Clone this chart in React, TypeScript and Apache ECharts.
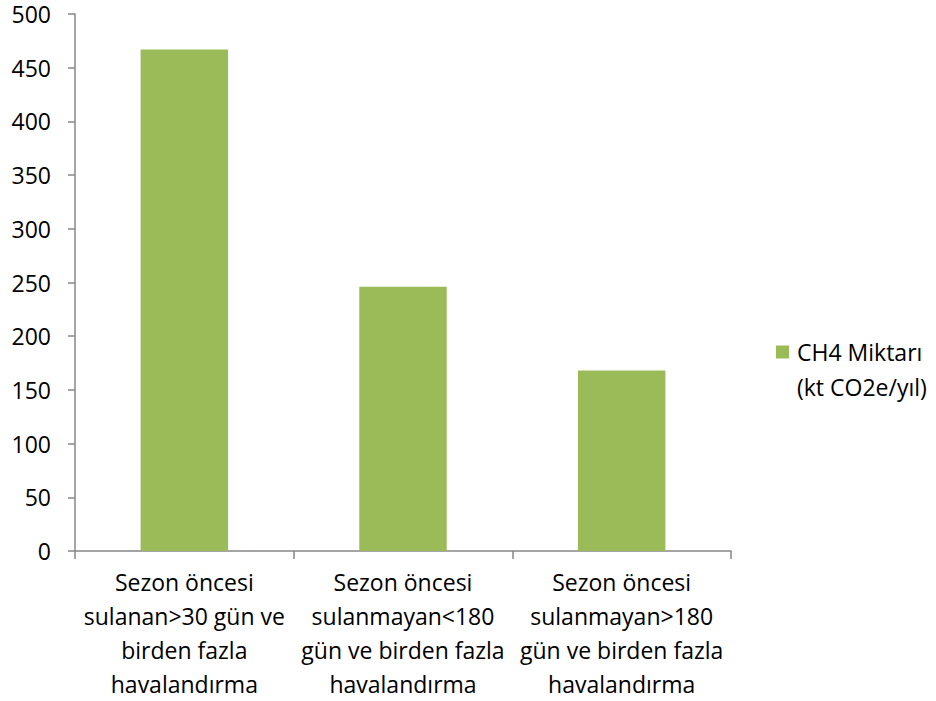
import React, { useEffect, useRef } from "react";
import * as echarts from "echarts";

const categories = [
  "Sezon öncesi\nsulanan>30 gün ve\nbirden fazla\nhavalandırma",
  "Sezon öncesi\nsulanmayan<180\ngün ve birden fazla\nhavalandırma",
  "Sezon öncesi\nsulanmayan>180\ngün ve birden fazla\nhavalandırma",
];
const seriesName = "CH4 Miktarı\n(kt CO2e/yıl)";
const values = [467, 246, 168];

const FONT = "'Open Sans', sans-serif";

export default function App() {
  const ref = useRef<HTMLDivElement>(null);
  useEffect(() => {
    if (!ref.current) return;
    const chart = echarts.init(ref.current, undefined, { renderer: "svg" });
    const lh = 35;
    chart.setOption({
      animation: false,
      backgroundColor: "#fff",
      grid: { left: 75, right: 205, top: 14, bottom: 149, containLabel: false },
      legend: {
        left: 776,
        top: 352 - 1.5 * lh,
        padding: 0,
        itemWidth: 13,
        itemHeight: 13,
        itemGap: 6,
        icon: "rect",
        data: [seriesName],
        formatter: (name: string) => "\n" + name,
        textStyle: {
          fontFamily: FONT,
          fontSize: 23,
          color: "#000",
          lineHeight: lh,
          padding: [0, 0, 0, 3],
        },
      },
      xAxis: {
        type: "category",
        data: categories,
        axisLine: { lineStyle: { color: "#878787", width: 1.5 } },
        axisTick: { show: true, length: 8, alignWithLabel: false, lineStyle: { color: "#878787", width: 1.5 } },
        axisLabel: {
          interval: 0,
          margin: 14,
          fontFamily: FONT,
          fontSize: 23,
          color: "#000",
          lineHeight: 34,
        },
      },
      yAxis: {
        type: "value",
        min: 0,
        max: 500,
        interval: 50,
        splitLine: { show: false },
        axisLine: { show: true, lineStyle: { color: "#878787", width: 1.5 } },
        axisTick: { show: true, length: 7, lineStyle: { color: "#878787", width: 1.5 } },
        axisLabel: {
          margin: 24,
          fontFamily: FONT,
          fontSize: 23,
          color: "#000",
          lineHeight: 20,
        },
      },
      series: [
        {
          name: seriesName,
          type: "bar",
          data: values,
          barCategoryGap: "60%",
          itemStyle: { color: "#9BBB59" },
        },
      ],
    });
    return () => chart.dispose();
  }, []);
  return (
    <div
      ref={ref}
      style={{ position: "absolute", left: 0, top: 0, width: 936, height: 701 }}
    />
  );
}
